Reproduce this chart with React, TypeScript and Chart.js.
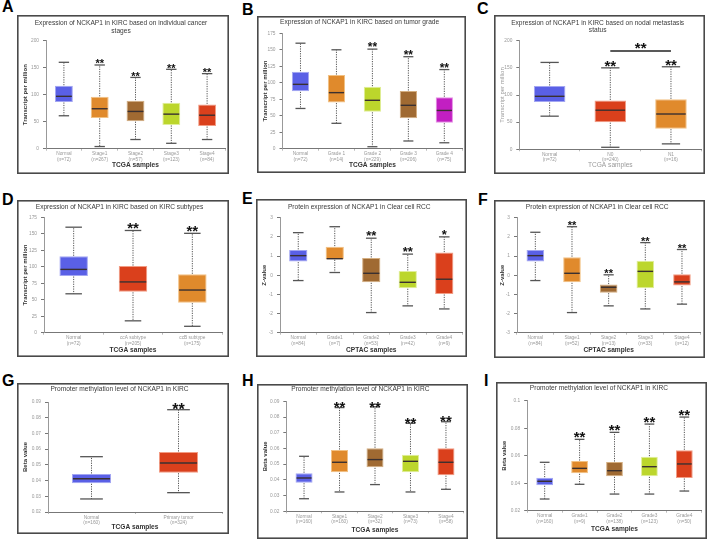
import React, { useEffect, useRef } from "react";
import { Chart, registerables } from "chart.js";

Chart.register(...registerables);

// ---------- colours ----------
const BLUE = "#5a60e6";
const ORANGE = "#e08a2c";
const BROWN = "#a06a32";
const LIME = "#bcd62c";
const RED = "#da401c";
const MAGENTA = "#c21fc2";
const EDGE: Record<string, string> = {
  [BLUE]: "#a3a6f2",
  [ORANGE]: "#f2c183",
  [BROWN]: "#d4ae80",
  [LIME]: "#e0ee98",
  [RED]: "#f29c84",
  [MAGENTA]: "#e590e5",
};

// ---------- data: A ----------
const A_categories = ["Normal", "Stage1", "Stage2", "Stage3", "Stage4"];
const A_counts = ["(n=72)", "(n=267)", "(n=57)", "(n=123)", "(n=84)"];
const A_min = [61, 4, 17, 10, 17];
const A_q1 = [86.5, 57, 51, 44, 42];
const A_median = [97, 74, 69, 64, 62];
const A_q3 = [116.5, 96, 89, 85, 82];
const A_max = [160, 155, 132, 147, 139];
const A_sig = ["", "**", "**", "**", "**"];
const A_yTicks = [0, 50, 100, 150, 200];
const A_colors = [BLUE, ORANGE, BROWN, LIME, RED];

// ---------- data: B ----------
const B_categories = ["Normal", "Grade 1", "Grade 2", "Grade 3", "Grade 4"];
const B_counts = ["(n=72)", "(n=14)", "(n=229)", "(n=206)", "(n=75)"];
const B_min = [61, 38.5, 3, 11.7, 9];
const B_q1 = [87, 70, 56, 46, 39.4];
const B_median = [97.6, 85, 73.4, 65.8, 58];
const B_q3 = [116.8, 111.7, 94, 87.5, 78];
const B_max = [160, 150, 151, 139.5, 120];
const B_sig = ["", "", "**", "**", "**"];
const B_yTicks = [0, 25, 50, 75, 100, 125, 150, 175];
const B_colors = [BLUE, ORANGE, LIME, BROWN, MAGENTA];

// ---------- data: C ----------
const C_categories = ["Normal", "N0", "N1"];
const C_counts = ["(n=72)", "(n=240)", "(n=16)"];
const C_min = [61, 3.7, 10];
const C_q1 = [87, 50, 38];
const C_median = [97.6, 72, 65];
const C_q3 = [116.6, 90, 92];
const C_max = [160, 150, 152];
const C_sig = ["", "**", "**"];
const C_yTicks = [0, 50, 100, 150, 200];
const C_colors = [BLUE, RED, ORANGE];
const C_bracketPair = [1, 2];
const C_bracketValue = 181;
const C_bracketSig = "**";

// ---------- data: D ----------
const D_categories = ["Normal", "ccA subtype", "ccB subtype"];
const D_counts = ["(n=72)", "(n=205)", "(n=175)"];
const D_min = [59, 18, 9.7];
const D_q1 = [86, 62, 45.5];
const D_median = [96, 77, 64.7];
const D_q3 = [115.8, 101, 88.5];
const D_max = [160, 155, 150.7];
const D_sig = ["", "**", "**"];
const D_yTicks = [0, 25, 50, 75, 100, 125, 150, 175];
const D_colors = [BLUE, RED, ORANGE];

// ---------- data: E ----------
const E_categories = ["Normal", "Grade1", "Grade2", "Grade3", "Grade4"];
const E_counts = ["(n=84)", "(n=7)", "(n=53)", "(n=42)", "(n=9)"];
const E_min = [-0.28, 0.14, -1.95, -1.6, -1.76];
const E_q1 = [0.71, 0.83, -0.37, -0.68, -0.98];
const E_median = [1.02, 0.86, 0.1, -0.37, -0.21];
const E_q3 = [1.32, 1.49, 0.9, 0.22, 1.18];
const E_max = [2.22, 2.53, 1.93, 1.1, 2.0];
const E_sig = ["", "", "**", "**", "*"];
const E_yTicks = [-3, -2, -1, 0, 1, 2, 3];
const E_colors = [BLUE, ORANGE, BROWN, LIME, RED];

// ---------- data: F ----------
const F_categories = ["Normal", "Stage1", "Stage2", "Stage3", "Stage4"];
const F_counts = ["(n=84)", "(n=52)", "(n=13)", "(n=33)", "(n=12)"];
const F_min = [-0.28, -1.95, -1.6, -1.76, -1.51];
const F_q1 = [0.71, -0.37, -0.91, -0.68, -0.54];
const F_median = [1.02, 0.1, -0.63, 0.2, -0.35];
const F_q3 = [1.32, 0.94, -0.49, 0.75, 0.05];
const F_max = [2.24, 2.53, 0.02, 1.7, 1.34];
const F_sig = ["", "**", "**", "**", "**"];
const F_yTicks = [-3, -2, -1, 0, 1, 2, 3];
const F_colors = [BLUE, ORANGE, BROWN, LIME, RED];

// ---------- data: G ----------
const G_categories = ["Normal", "Primary tumor"];
const G_counts = ["(n=160)", "(n=324)"];
const G_min = [0.0283, 0.0323];
const G_q1 = [0.0383, 0.045];
const G_median = [0.0412, 0.0512];
const G_q3 = [0.0442, 0.0582];
const G_max = [0.0552, 0.0851];
const G_sig = ["", "**"];
const G_yTicks = [0.02, 0.03, 0.04, 0.05, 0.06, 0.07, 0.08, 0.09];
const G_colors = [BLUE, RED];

// ---------- data: H ----------
const H_categories = ["Normal", "Stage1", "Stage2", "Stage3", "Stage4"];
const H_counts = ["(n=160)", "(n=160)", "(n=32)", "(n=73)", "(n=58)"];
const H_min = [0.028, 0.0323, 0.037, 0.0323, 0.034];
const H_q1 = [0.0382, 0.0448, 0.048, 0.0448, 0.043];
const H_median = [0.0412, 0.0512, 0.0529, 0.0518, 0.0512];
const H_q3 = [0.0442, 0.059, 0.0601, 0.056, 0.0601];
const H_max = [0.055, 0.086, 0.0864, 0.076, 0.077];
const H_sig = ["", "**", "**", "**", "**"];
const H_yTicks = [0.02, 0.03, 0.04, 0.05, 0.06, 0.07, 0.08, 0.09];
const H_colors = [BLUE, ORANGE, BROWN, LIME, RED];

// ---------- data: I ----------
const I_categories = ["Normal", "Grade1", "Grade2", "Grade3", "Grade4"];
const I_counts = ["(n=160)", "(n=9)", "(n=138)", "(n=123)", "(n=50)"];
const I_min = [0.0285, 0.0392, 0.0321, 0.0321, 0.0343];
const I_q1 = [0.0385, 0.0472, 0.045, 0.045, 0.0438];
const I_median = [0.0414, 0.0508, 0.0491, 0.052, 0.054];
const I_q3 = [0.044, 0.0561, 0.0554, 0.0593, 0.0639];
const I_max = [0.0552, 0.0719, 0.077, 0.083, 0.0881];
const I_sig = ["", "**", "**", "**", "**"];
const I_yTicks = [0.02, 0.04, 0.06, 0.08, 0.1];
const I_colors = [BLUE, ORANGE, BROWN, LIME, RED];

// ---------- texts ----------
const TPM = "Transcript per million";
const ZV = "Z-value";
const BETA = "Beta value";
const TCGA = "TCGA samples";
const CPTAC = "CPTAC samples";

// ---------- style ----------
const FONT = '"Liberation Sans", Arial, sans-serif';
const TITLE_SIZE = 6.6;
const TITLE_LH = 1.12;

type Spec = {
  letter: string;
  letterPos: { x: number; y: number };
  frame: { x: number; y: number; w: number; h: number };
  plot: { l: number; r: number; t: number; b: number };
  titleY: number;
  xTitleY: number;
  title: string[];
  yTitle: string;
  xTitle: string;
  categories: string[];
  counts: string[];
  min: number[];
  q1: number[];
  median: number[];
  q3: number[];
  max: number[];
  sig: string[];
  yTicks: number[];
  colors: string[];
  sigSize: number;
  sigGap: number;
  boxRatio: number;
  muted?: boolean;
  bracket?: { pair: number[]; value: number; sig: string };
};

const SPECS: Spec[] = [
  {
    letter: "A", letterPos: { x: 2, y: -1 },
    frame: { x: 17, y: 15, w: 212, h: 159 },
    plot: { l: 29, r: 208, t: 25.7, b: 133.7 },
    titleY: 8.3, xTitleY: 150,
    title: ["Expression of NCKAP1 in KIRC based on individual cancer", "stages"],
    yTitle: TPM, xTitle: TCGA,
    categories: A_categories, counts: A_counts, min: A_min, q1: A_q1, median: A_median, q3: A_q3, max: A_max,
    sig: A_sig, yTicks: A_yTicks, colors: A_colors, sigSize: 11, sigGap: 4, boxRatio: 0.5,
  },
  {
    letter: "B", letterPos: { x: 242, y: 1.5 },
    frame: { x: 257, y: 16, w: 209, h: 157 },
    plot: { l: 25.5, r: 205.3, t: 17.3, b: 132.7 },
    titleY: 6.3, xTitleY: 149,
    title: ["Expression of NCKAP1 in KIRC based on tumor grade"],
    yTitle: TPM, xTitle: TCGA,
    categories: B_categories, counts: B_counts, min: B_min, q1: B_q1, median: B_median, q3: B_q3, max: B_max,
    sig: B_sig, yTicks: B_yTicks, colors: B_colors, sigSize: 12, sigGap: 4.7, boxRatio: 0.48,
  },
  {
    letter: "C", letterPos: { x: 477, y: 1 },
    frame: { x: 494, y: 15, w: 211, h: 159 },
    plot: { l: 25.3, r: 207.3, t: 25.7, b: 134.3 },
    titleY: 7.7, xTitleY: 150.3,
    title: ["Expression of NCKAP1 in KIRC based on nodal metastasis", "status"],
    yTitle: TPM, xTitle: TCGA,
    categories: C_categories, counts: C_counts, min: C_min, q1: C_q1, median: C_median, q3: C_q3, max: C_max,
    sig: C_sig, yTicks: C_yTicks, colors: C_colors, sigSize: 15, sigGap: 5.7, boxRatio: 0.52, muted: true,
    bracket: { pair: C_bracketPair, value: C_bracketValue, sig: C_bracketSig },
  },
  {
    letter: "D", letterPos: { x: 2, y: 191.5 },
    frame: { x: 17, y: 200, w: 212, h: 157 },
    plot: { l: 27, r: 205, t: 17.3, b: 132.7 },
    titleY: 6.7, xTitleY: 150,
    title: ["Expression of NCKAP1 in KIRC based on KIRC subtypes"],
    yTitle: TPM, xTitle: TCGA,
    categories: D_categories, counts: D_counts, min: D_min, q1: D_q1, median: D_median, q3: D_q3, max: D_max,
    sig: D_sig, yTicks: D_yTicks, colors: D_colors, sigSize: 15, sigGap: 6.3, boxRatio: 0.48,
  },
  {
    letter: "E", letterPos: { x: 242, y: 191 },
    frame: { x: 256, y: 199, w: 211, h: 158 },
    plot: { l: 24, r: 206.5, t: 18.7, b: 133.7 },
    titleY: 7.7, xTitleY: 151,
    title: ["Protein expression of NCKAP1 in Clear cell RCC"],
    yTitle: ZV, xTitle: CPTAC,
    categories: E_categories, counts: E_counts, min: E_min, q1: E_q1, median: E_median, q3: E_q3, max: E_max,
    sig: E_sig, yTicks: E_yTicks, colors: E_colors, sigSize: 13, sigGap: 5.7, boxRatio: 0.5,
  },
  {
    letter: "F", letterPos: { x: 478, y: 191.5 },
    frame: { x: 494, y: 200, w: 211, h: 158 },
    plot: { l: 23, r: 206.3, t: 17.7, b: 132.7 },
    titleY: 6.7, xTitleY: 150,
    title: ["Protein expression of NCKAP1 in Clear cell RCC"],
    yTitle: ZV, xTitle: CPTAC,
    categories: F_categories, counts: F_counts, min: F_min, q1: F_q1, median: F_median, q3: F_q3, max: F_max,
    sig: F_sig, yTicks: F_yTicks, colors: F_colors, sigSize: 11, sigGap: 4.3, boxRatio: 0.48,
  },
  {
    letter: "G", letterPos: { x: 2, y: 373 },
    frame: { x: 17, y: 383, w: 212, h: 151 },
    plot: { l: 31, r: 205, t: 19, b: 129 },
    titleY: 6.3, xTitleY: 144.5,
    title: ["Promoter methylation level of NCKAP1 in KIRC"],
    yTitle: BETA, xTitle: TCGA,
    categories: G_categories, counts: G_counts, min: G_min, q1: G_q1, median: G_median, q3: G_q3, max: G_max,
    sig: G_sig, yTicks: G_yTicks, colors: G_colors, sigSize: 16, sigGap: 3.7, boxRatio: 0.45,
  },
  {
    letter: "H", letterPos: { x: 242, y: 373 },
    frame: { x: 257, y: 384, w: 211, h: 155 },
    plot: { l: 29.3, r: 206.7, t: 17.3, b: 127.3 },
    titleY: 5, xTitleY: 146.3,
    title: ["Promoter methylation level of NCKAP1 in KIRC"],
    yTitle: BETA, xTitle: TCGA,
    categories: H_categories, counts: H_counts, min: H_min, q1: H_q1, median: H_median, q3: H_q3, max: H_max,
    sig: H_sig, yTicks: H_yTicks, colors: H_colors, sigSize: 15, sigGap: 4, boxRatio: 0.48,
  },
  {
    letter: "I", letterPos: { x: 484, y: 373 },
    frame: { x: 496, y: 382, w: 211, h: 157 },
    plot: { l: 31.2, r: 205.8, t: 18.7, b: 128.7 },
    titleY: 6, xTitleY: 146.7,
    title: ["Promoter methylation level of NCKAP1 in KIRC"],
    yTitle: BETA, xTitle: TCGA,
    categories: I_categories, counts: I_counts, min: I_min, q1: I_q1, median: I_median, q3: I_q3, max: I_max,
    sig: I_sig, yTicks: I_yTicks, colors: I_colors, sigSize: 15, sigGap: 5.7, boxRatio: 0.48,
  },
];

const boxPlugin = {
  id: "boxplot",
  afterDatasetsDraw(chart: any, _args: any, opts: any) {
    const meta = chart.getDatasetMeta(0);
    const ys = chart.scales.y;
    const ctx = chart.ctx as CanvasRenderingContext2D;
    const seg = (x1: number, y1: number, x2: number, y2: number) => {
      ctx.beginPath();
      ctx.moveTo(x1, y1);
      ctx.lineTo(x2, y2);
      ctx.stroke();
    };
    ctx.save();
    meta.data.forEach((el: any, i: number) => {
      const x = el.x;
      const half = el.width / 2;
      const cap = half * 0.58;
      const yMax = ys.getPixelForValue(opts.max[i]);
      const yMin = ys.getPixelForValue(opts.min[i]);
      const yQ1 = ys.getPixelForValue(opts.q1[i]);
      const yQ3 = ys.getPixelForValue(opts.q3[i]);
      const yMed = ys.getPixelForValue(opts.median[i]);
      // whiskers (dotted)
      ctx.strokeStyle = "#555";
      ctx.lineWidth = 1;
      ctx.setLineDash([1.2, 1.2]);
      seg(x, yQ3 - 0.5, x, yMax);
      seg(x, yQ1 + 0.5, x, yMin);
      ctx.setLineDash([]);
      // caps
      ctx.lineWidth = 1.3;
      ctx.strokeStyle = "#555";
      seg(x - cap, yMax, x + cap, yMax);
      seg(x - cap, yMin, x + cap, yMin);
      // median
      ctx.lineWidth = 1.4;
      ctx.strokeStyle = "#3a3030";
      seg(x - half + 1, yMed, x + half - 1, yMed);
      // significance
      const s = opts.sig[i];
      if (s) {
        ctx.fillStyle = "#111";
        ctx.font = `bold ${opts.sigSize}px ${FONT}`;
        ctx.textAlign = "center";
        ctx.textBaseline = "alphabetic";
        ctx.fillText(s, x, yMax - opts.sigGap + 0.58 * opts.sigSize);
      }
    });
    if (opts.bracket) {
      const a = meta.data[opts.bracket.pair[0]];
      const b = meta.data[opts.bracket.pair[1]];
      const yb = ys.getPixelForValue(opts.bracket.value);
      ctx.strokeStyle = "#222";
      ctx.lineWidth = 1.5;
      seg(a.x, yb, b.x, yb);
      ctx.fillStyle = "#111";
      ctx.font = `bold ${opts.sigSize}px ${FONT}`;
      ctx.textAlign = "center";
      ctx.textBaseline = "alphabetic";
      ctx.fillText(opts.bracket.sig, (a.x + b.x) / 2, yb - 6.3 + 0.58 * opts.sigSize);
    }
    ctx.restore();
  },
  afterDraw(chart: any) {
    const ctx = chart.ctx as CanvasRenderingContext2D;
    ctx.save();
    ctx.strokeStyle = "#4a4a4a";
    ctx.lineWidth = 1.6;
    ctx.strokeRect(0.8, 0.8, chart.width - 1.6, chart.height - 1.6);
    ctx.restore();
  },
};

const fmt = (v: number) => String(Number(Number(v).toFixed(3)));

function buildConfig(spec: Spec): any {
  const lh = TITLE_SIZE * TITLE_LH;
  const titlePadTop = spec.titleY - lh / 2;
  const titlePadBottom = spec.plot.t - titlePadTop - spec.title.length * lh;
  const xTitleLh = 6.6 * 1.15;
  const padBottom = spec.frame.h - spec.xTitleY - xTitleLh / 2;
  const xHeight = spec.frame.h - padBottom - spec.plot.b;
  const axisTextColor = spec.muted ? "#9a9a9a" : "#333";
  const yTicks = spec.yTicks;
  return {
    type: "bar",
    data: {
      labels: spec.categories.map((c, i) => [c, spec.counts[i]]),
      datasets: [
        {
          data: spec.q1.map((v, i) => [v, spec.q3[i]]),
          backgroundColor: spec.colors,
          borderColor: spec.colors.map((c) => EDGE[c]),
          borderWidth: 1,
          borderSkipped: false,
          barPercentage: spec.boxRatio,
          categoryPercentage: 1,
        },
      ],
    },
    options: {
      responsive: false,
      animation: false,
      devicePixelRatio: 1,
      events: [],
      layout: {
        padding: { left: 0, right: spec.frame.w - spec.plot.r, top: 0, bottom: padBottom },
      },
      plugins: {
        legend: { display: false },
        tooltip: { enabled: false },
        title: {
          display: true,
          text: spec.title,
          color: "#3a3a3a",
          font: { family: FONT, size: TITLE_SIZE, lineHeight: TITLE_LH, weight: "normal" },
          padding: { top: titlePadTop, bottom: titlePadBottom },
        },
        boxplot: {
          min: spec.min,
          max: spec.max,
          q1: spec.q1,
          q3: spec.q3,
          median: spec.median,
          sig: spec.sig,
          sigSize: spec.sigSize,
          sigGap: spec.sigGap,
          bracket: spec.bracket,
        },
      },
      scales: {
        x: {
          type: "category",
          offset: true,
          grid: {
            display: true,
            drawOnChartArea: false,
            drawTicks: true,
            tickLength: 2,
            offset: true,
            color: "#bbb",
          },
          border: { display: true, color: "#777", width: 1 },
          ticks: {
            font: { family: FONT, size: 4.8, lineHeight: 1.15 },
            color: "#999",
            padding: 0.5,
            maxRotation: 0,
            autoSkip: false,
          },
          title: {
            display: true,
            text: spec.xTitle,
            color: axisTextColor,
            font: { family: FONT, size: 6.6, lineHeight: 1.15, weight: spec.muted ? "normal" : "bold" },
            padding: 0,
          },
          afterFit: (s: any) => {
            s.height = xHeight;
          },
        },
        y: {
          type: "linear",
          min: yTicks[0],
          max: yTicks[yTicks.length - 1],
          afterBuildTicks: (s: any) => {
            s.ticks = yTicks.map((v) => ({ value: v }));
          },
          grid: {
            display: true,
            drawOnChartArea: false,
            drawTicks: true,
            tickLength: 3,
            color: "#777",
          },
          border: { display: true, color: "#999", width: 1 },
          ticks: {
            font: { family: FONT, size: 4.8 },
            color: "#999",
            padding: 4,
            callback: (v: number) => fmt(v),
          },
          title: {
            display: true,
            text: spec.yTitle,
            color: axisTextColor,
            font: { family: FONT, size: 6, lineHeight: 1.15, weight: spec.muted ? "normal" : "bold" },
            padding: { top: 5, bottom: 0 },
          },
          afterFit: (s: any) => {
            s.width = spec.plot.l;
          },
        },
      },
    },
    plugins: [boxPlugin],
  };
}

function BoxPanel({ spec }: { spec: Spec }) {
  const ref = useRef<HTMLCanvasElement>(null);
  useEffect(() => {
    const chart = new Chart(ref.current as HTMLCanvasElement, buildConfig(spec));
    return () => chart.destroy();
  }, [spec]);
  return (
    <>
      <div
        style={{
          position: "absolute",
          left: spec.letterPos.x,
          top: spec.letterPos.y,
          font: `bold 16px ${FONT}`,
          lineHeight: "16px",
          color: "#000",
        }}
      >
        {spec.letter}
      </div>
      <div
        style={{
          position: "absolute",
          left: spec.frame.x,
          top: spec.frame.y,
          width: spec.frame.w,
          height: spec.frame.h,
        }}
      >
        <canvas
          ref={ref}
          width={spec.frame.w}
          height={spec.frame.h}
          style={{ display: "block", width: spec.frame.w, height: spec.frame.h }}
        />
      </div>
    </>
  );
}

export default function App() {
  return (
    <div
      style={{
        position: "fixed",
        left: 0,
        top: 0,
        width: 708,
        height: 542,
        background: "#fff",
        overflow: "hidden",
      }}
    >
      {SPECS.map((s) => (
        <BoxPanel key={s.letter} spec={s} />
      ))}
    </div>
  );
}
